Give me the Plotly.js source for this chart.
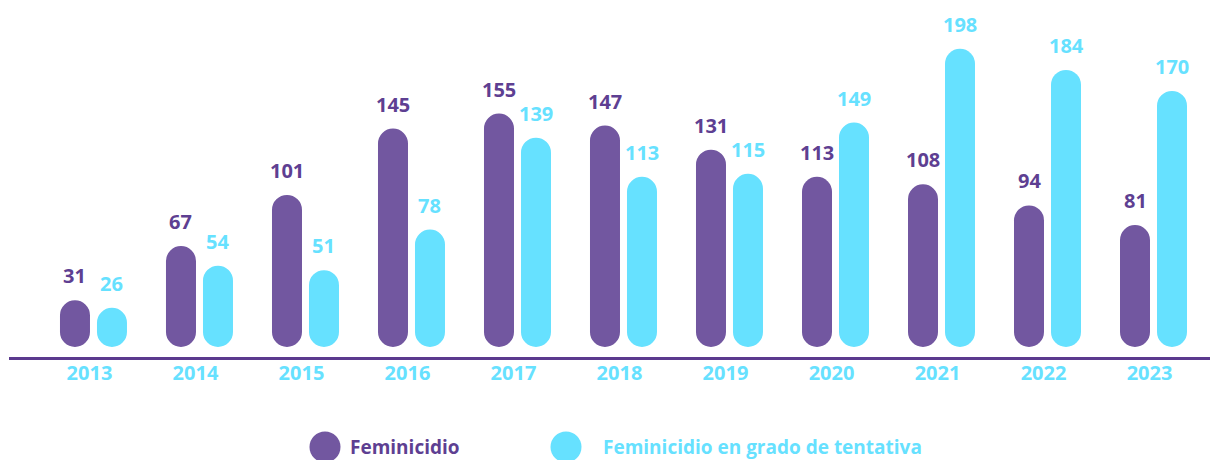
<!DOCTYPE html>
<html>
<head>
<meta charset="utf-8">
<script src="https://cdn.plot.ly/plotly-3.0.1.min.js"></script>
<style>html,body{margin:0;padding:0;background:#fff;}#chart{width:1210px;height:460px;}</style>
</head>
<body>
<div id="chart"></div>
<script>
const years = ["2013","2014","2015","2016","2017","2018","2019","2020","2021","2022","2023"];
const feminicidio = [31, 67, 101, 145, 155, 147, 131, 113, 108, 94, 81];
const tentativa = [26, 54, 51, 78, 139, 113, 115, 149, 198, 184, 170];
const seriesNames = ["Feminicidio", "Feminicidio en grado de tentativa"];

const PURPLE = "#7257A0";
const PURPLE_TXT = "#5E3F92";
const CYAN = "#66E1FF";
const FONT = "Open Sans, sans-serif";

const yMin = -6.64, yMax = 230.4;
const plotH = 357;
const barPx = 30;
const barW = 30 / 106;
const idx = years.map((y, i) => i);
const offA = -18.5 / 106, offB = 18.5 / 106;

function pill(vals, color, off) {
  return {
    type: "bar", x: idx.map(i => i + off), y: vals, base: vals.map(() => 0),
    width: barW,
    marker: {color: color, cornerradius: barPx / 2, line: {width: 0}},
    showlegend: false, hoverinfo: "skip"
  };
}

const data = [pill(feminicidio, PURPLE, offA), pill(tentativa, CYAN, offB)];

const annotations = [];
idx.forEach(i => {
  annotations.push({x: i + offA, xref: "x", y: feminicidio[i], yref: "y",
    text: String(feminicidio[i]), showarrow: false, yanchor: "bottom", yshift: 9,
    font: {family: FONT, size: 20, color: PURPLE_TXT, weight: 700}});
  annotations.push({x: i + offB, xref: "x", y: tentativa[i], yref: "y",
    text: String(tentativa[i]), showarrow: false, yanchor: "bottom", yshift: 9,
    font: {family: FONT, size: 20, color: CYAN, weight: 700}});
});

// legend
const legX = [(325 - 9) / 1201, (566 - 9) / 1201];
const legShift = [23, 35];
const legY = (plotH - 447) / plotH;
const legColors = [PURPLE, CYAN];
const legTxt = [PURPLE_TXT, CYAN];
const shapes = [];
seriesNames.forEach((n, k) => {
  shapes.push({type: "circle", xref: "paper", yref: "paper", xsizemode: "pixel", ysizemode: "pixel",
    xanchor: legX[k], yanchor: legY, x0: -15.5, x1: 15.5, y0: -15.5, y1: 15.5,
    fillcolor: legColors[k], line: {width: 0}});
  annotations.push({xref: "paper", yref: "paper", x: legX[k], xshift: legShift[k], y: legY, xanchor: "left", yanchor: "middle",
    text: n, showarrow: false, font: {family: FONT, size: 19, color: legTxt[k], weight: 700}});
});

const layout = {
  width: 1210, height: 460,
  margin: {l: 9, r: 0, t: 0, b: 103},
  paper_bgcolor: "#fff", plot_bgcolor: "#fff",
  barmode: "overlay",
  showlegend: false,
  xaxis: {type: "linear", range: [-0.797, 10.533], showgrid: false, zeroline: false,
    tickmode: "array", tickvals: idx, ticktext: years, ticklabelshift: -4, ticklabelstandoff: -5,
    showline: true, linecolor: "#5B3A8E", linewidth: 3,
    ticks: "outside", ticklen: 1, tickcolor: "rgba(0,0,0,0)",
    tickfont: {family: FONT, size: 20, color: CYAN, weight: 700}, fixedrange: true},
  yaxis: {range: [yMin, yMax], visible: false, fixedrange: true},
  annotations: annotations,
  shapes: shapes,
  font: {family: FONT}
};

Plotly.newPlot("chart", data, layout, {displayModeBar: false, staticPlot: true});
</script>
</body>
</html>
